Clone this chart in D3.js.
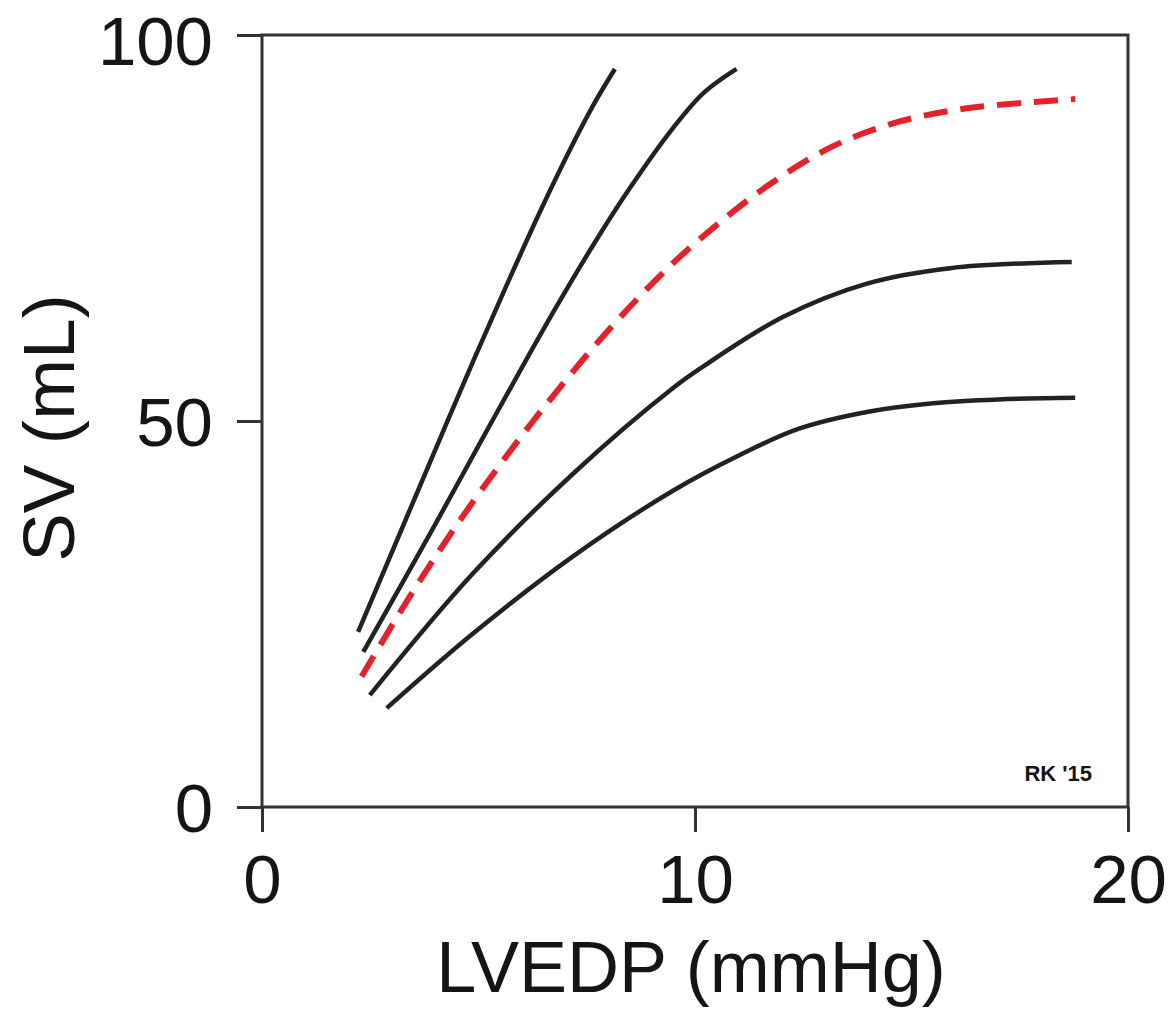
<!DOCTYPE html>
<html>
<head>
<meta charset="utf-8">
<script src="https://cdn.jsdelivr.net/npm/d3@7"></script>
<style>
  html, body { margin: 0; padding: 0; background: #fff; }
  svg { display: block; }
  text { font-family: "Liberation Sans", Arial, sans-serif; fill: #151515; }
</style>
</head>
<body>
<svg id="chart" width="1172" height="1010"></svg>
<script>
// ---- data ----
const xTicks = [0, 10, 20];
const yTicks = [0, 50, 100];
const xLabel = "LVEDP (mmHg)";
const yLabel = "SV (mL)";
const credit = "RK '15";

const curve1 = [[2.22,22.7],[3.34,37.5],[4.11,47.7],[4.88,57.8],[5.65,67.6],[6.42,77.1],[7.19,86.0],[7.70,91.4],[8.15,95.6]];
const curve2 = [[2.34,20.1],[4.03,36.9],[5.03,47.1],[6.03,57.2],[6.81,64.9],[7.65,72.8],[8.50,80.2],[9.50,88.0],[10.20,92.5],[10.96,95.6]];
const curveNormal = [[2.30,16.9],[3.34,26.6],[4.42,35.9],[5.65,45.5],[6.73,53.3],[7.96,61.5],[9.19,68.8],[10.12,73.6],[11.66,80.4],[13.19,85.6],[14.73,88.8],[16.27,90.5],[17.81,91.3],[18.78,91.7]];
const curve4 = [[2.49,14.5],[4.88,30.3],[7.19,43.2],[9.50,54.3],[10.12,56.8],[12.04,63.5],[13.97,67.8],[15.89,69.8],[18.70,70.6]];
const curve5 = [[2.88,12.8],[4.88,22.5],[7.19,32.5],[9.50,41.0],[11.00,45.5],[12.40,49.0],[14.00,51.2],[15.50,52.3],[17.00,52.8],[18.78,53.0]];

const blackCurves = [curve1, curve2, curve4, curve5];

// ---- layout ----
const svg = d3.select("#chart");
const L = 262, R = 1128, T = 35, B = 807;
const x = d3.scaleLinear().domain([0, 20]).range([L, R]);
const y = d3.scaleLinear().domain([0, 100]).range([B, T]);

const axisColor = "#333";

// axes
const gx = svg.append("g").attr("transform", `translate(0,${B})`)
  .call(d3.axisBottom(x).tickValues(xTicks).tickSize(25).tickSizeOuter(0).tickPadding(22));
const gy = svg.append("g").attr("transform", `translate(${L},0)`)
  .call(d3.axisLeft(y).tickValues(yTicks).tickSize(25).tickSizeOuter(0).tickPadding(24));
[gx, gy].forEach(g => {
  g.select(".domain").remove();
  g.selectAll(".tick line").attr("stroke", axisColor).attr("stroke-width", 3);
  g.selectAll(".tick text").attr("font-size", 69).attr("fill", "#151515")
    .attr("font-family", '"Liberation Sans", Arial, sans-serif');
});
gy.selectAll(".tick text").attr("dy", "0.36em")
  .attr("y", d => d === 100 ? 5 : 0);

// frame
svg.append("rect").attr("x", L).attr("y", T).attr("width", R - L).attr("height", B - T)
  .attr("fill", "none").attr("stroke", axisColor).attr("stroke-width", 3);

// curves
const line = d3.line().x(d => x(d[0])).y(d => y(d[1])).curve(d3.curveCatmullRom.alpha(0.5));
svg.append("g").selectAll("path").data(blackCurves).join("path")
  .attr("d", line).attr("fill", "none").attr("stroke", "#222").attr("stroke-width", 4.5)
  .attr("stroke-linecap", "butt");
svg.append("path").datum(curveNormal).attr("d", line)
  .attr("fill", "none").attr("stroke", "#e2232b").attr("stroke-width", 6)
  .attr("stroke-dasharray", "24,13");

// labels
svg.append("text").attr("x", (L + R) / 2 - 4).attr("y", 992)
  .attr("text-anchor", "middle").attr("font-size", 72).text(xLabel);
svg.append("text").attr("transform", "translate(74,428) rotate(-90)")
  .attr("text-anchor", "middle").attr("font-size", 73).text(yLabel);
svg.append("text").attr("x", 1092).attr("y", 781).attr("text-anchor", "end")
  .attr("font-size", 22).attr("fill", "#555").attr("font-weight", "bold").text(credit);
</script>
</body>
</html>
